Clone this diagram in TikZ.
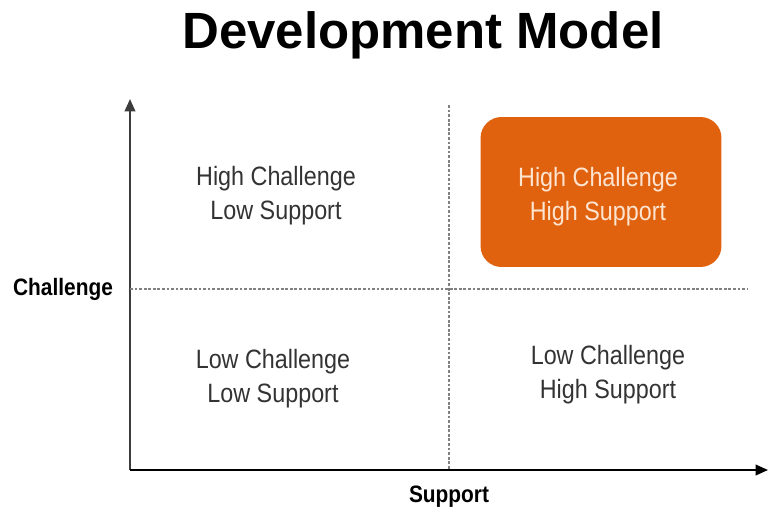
\documentclass[tikz,border=0pt]{standalone}
\usepackage{fontspec}
\setmainfont{Liberation Sans}
\newfontfamily\narrowfont[FakeStretch=0.88]{Liberation Sans}
\usetikzlibrary{arrows.meta,positioning}
\definecolor{quadorange}{RGB}{224,97,14}
\definecolor{quadtext}{RGB}{51,51,51}
\definecolor{peach}{RGB}{253,228,208}
\definecolor{axisgray}{RGB}{60,60,60}

\begin{document}
\begin{tikzpicture}[x=0.02cm,y=-0.02cm,
  quad/.style={align=center,text=quadtext,font=\narrowfont\fontsize{15.1pt}{19.3pt}\selectfont},
  axislabel/.style={font=\narrowfont\bfseries\fontsize{13.5pt}{15pt}\selectfont},
  axisline/.style={draw=axisgray,line width=1.1pt,-{Triangle[length=7pt,width=6pt]}},
  guide/.style={draw=gray,line width=0.6pt,dash pattern=on 1.6pt off 1pt}]
\useasboundingbox (0,0) rectangle (768,511);

% Title
\node[font=\bfseries\fontsize{29pt}{34pt}\selectfont] (title) at (423,35) {Development Model};

% Axes
\coordinate (origin) at (130,470);
\coordinate (ytip) at (130,99);
\coordinate (xtip) at (768,470);
\draw[axisline] (origin) -- (ytip);
\draw[axisline,draw=black] (origin) -- (xtip);

% Quadrant split
\coordinate (vtop) at (449,105);
\coordinate (vbot) at (449,470);
\coordinate (hleft) at (130,289);
\coordinate (hright) at (748,289);
\draw[guide] (vtop) -- (vbot);
\draw[guide] (hleft) -- (hright);

% Axis labels
\node[axislabel] (challenge) at (63,289) {Challenge};
\node[axislabel] (support) at (449,497) {Support};

% Quadrants
\node[quad] (hcls) at (276,196) {High Challenge\\Low Support};
\node[rectangle,fill=quadorange,rounded corners=0.42cm,minimum width=4.82cm,minimum height=3cm] (hchsbox) at (601,192) {};
\node[quad,text=peach] (hchs) at (598,197) {High Challenge\\High Support};
\node[quad] (lcls) at (273,379) {Low Challenge\\Low Support};
\node[quad] (lchs) at (608,375) {Low Challenge\\High Support};
\end{tikzpicture}
\end{document}
